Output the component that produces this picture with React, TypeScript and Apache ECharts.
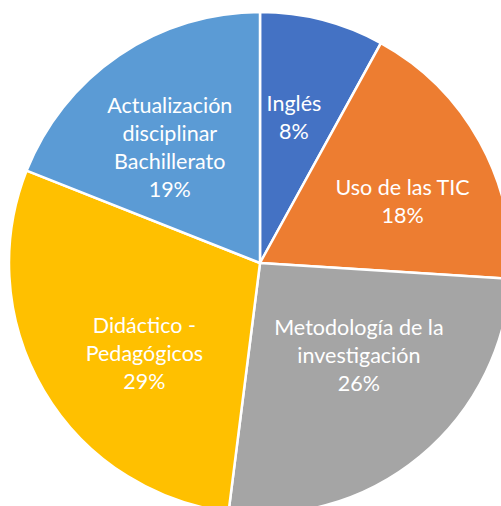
import React, { useEffect, useRef } from "react";
import * as echarts from "echarts";

const categories = [
  "Inglés",
  "Uso de las TIC",
  "Metodología de la\ninvestigación",
  "Didáctico -\nPedagógicos",
  "Actualización\ndisciplinar\nBachillerato",
];
const values = [8, 18, 26, 29, 19];
const colors = ["#4472C4", "#ED7D31", "#A5A5A5", "#FFC000", "#5B9BD5"];
const labelShift = [
  [2, -22],
  [30, 0],
  [17, -7],
  [-5, 25],
  [-18, -10],
];

export default function App() {
  const ref = useRef<HTMLDivElement>(null);
  useEffect(() => {
    const chart = echarts.init(ref.current!, null, { renderer: "svg" });
    chart.setOption({
      animation: false,
      series: [
        {
          type: "pie",
          center: [260, 263],
          radius: [0, 251],
          startAngle: 90,
          clockwise: true,
          data: categories.map((name, i) => ({
            name,
            value: values[i],
            itemStyle: { color: colors[i] },
          })),
          itemStyle: { borderColor: "#ffffff", borderWidth: 2.5 },
          label: {
            show: true,
            position: "inside",
            formatter: "{b}\n{d}%",
            color: "#ffffff",
            fontFamily: "Lato, 'Noto Sans', sans-serif",
            fontSize: 21.5,
            lineHeight: 28,
            align: "center",
          },
          labelLine: { show: false },
          labelLayout: (p: any) => ({
            dx: labelShift[p.dataIndex][0],
            dy: labelShift[p.dataIndex][1],
          }),
          emphasis: { disabled: true },
        },
      ],
    });
    return () => chart.dispose();
  }, []);
  return (
    <div
      ref={ref}
      style={{ position: "absolute", left: 0, top: 0, width: 501, height: 506 }}
    />
  );
}
